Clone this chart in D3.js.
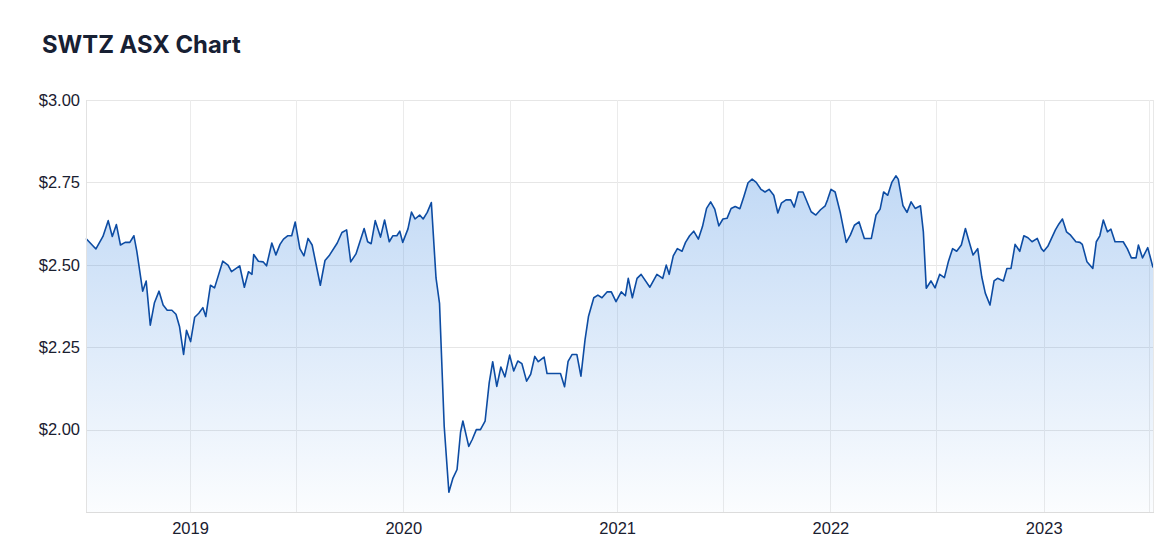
<!DOCTYPE html>
<html>
<head>
<meta charset="utf-8">
<script src="https://cdn.jsdelivr.net/npm/d3@7"></script>
<style>
  html, body { margin: 0; padding: 0; background: #ffffff; }
  svg { display: block; }
</style>
</head>
<body>
<svg id="chart" width="1174" height="560"></svg>
<script>
const title = "SWTZ ASX Chart";
const yTicks = [2.00, 2.25, 2.50, 2.75, 3.00];
const xLabelYears = ["2019", "2020", "2021", "2022", "2023"];
const domainDates = ["2018-07-07", "2023-07-07"];

const dates = [
"2018-07-07","2018-07-24","2018-08-05","2018-08-14","2018-08-21","2018-08-28","2018-09-04","2018-09-12","2018-09-20","2018-09-27",
"2018-10-02","2018-10-12","2018-10-18","2018-10-25","2018-11-01","2018-11-09","2018-11-16","2018-11-23","2018-12-01","2018-12-08",
"2018-12-14","2018-12-21","2018-12-26","2019-01-02","2019-01-09","2019-01-16","2019-01-23","2019-01-28","2019-02-05","2019-02-12",
"2019-02-26","2019-03-07","2019-03-13","2019-03-27","2019-04-04","2019-04-11","2019-04-17","2019-04-20","2019-04-28","2019-05-06",
"2019-05-12","2019-05-21","2019-05-28","2019-06-04","2019-06-10","2019-06-17","2019-06-24","2019-06-30","2019-07-08","2019-07-15",
"2019-07-22","2019-07-29","2019-08-12","2019-08-20","2019-08-28","2019-09-10","2019-09-18","2019-09-26","2019-10-03","2019-10-12",
"2019-10-26","2019-11-01","2019-11-07","2019-11-14","2019-11-23","2019-11-30","2019-12-08","2019-12-14","2019-12-21","2019-12-26",
"2019-12-31","2020-01-09","2020-01-15","2020-01-21","2020-01-29","2020-02-04","2020-02-11","2020-02-18","2020-02-26","2020-03-03",
"2020-03-11","2020-03-19","2020-03-26","2020-04-02","2020-04-08","2020-04-12","2020-04-22","2020-04-28","2020-05-05","2020-05-12",
"2020-05-20","2020-05-27","2020-06-02","2020-06-09","2020-06-16","2020-06-23","2020-07-01","2020-07-08","2020-07-15","2020-07-22",
"2020-07-30","2020-08-06","2020-08-13","2020-08-19","2020-08-29","2020-09-03","2020-09-26","2020-10-03","2020-10-09","2020-10-16",
"2020-10-24","2020-10-31","2020-11-07","2020-11-13","2020-11-22","2020-11-29","2020-12-06","2020-12-15","2020-12-22","2020-12-30",
"2021-01-08","2021-01-15","2021-01-20","2021-01-27","2021-02-04","2021-02-11","2021-02-26","2021-03-10","2021-03-20","2021-03-26",
"2021-03-31","2021-04-07","2021-04-14","2021-04-22","2021-04-28","2021-05-05","2021-05-12","2021-05-20","2021-05-27","2021-06-03",
"2021-06-10","2021-06-17","2021-06-24","2021-07-01","2021-07-08","2021-07-15","2021-07-22","2021-07-30","2021-08-06","2021-08-13",
"2021-08-20","2021-08-27","2021-09-04","2021-09-11","2021-09-18","2021-09-26","2021-10-03","2021-10-09","2021-10-17","2021-10-25",
"2021-10-31","2021-11-07","2021-11-15","2021-11-29","2021-12-07","2021-12-15","2021-12-23","2021-12-27","2022-01-02","2022-01-09",
"2022-01-18","2022-01-28","2022-02-04","2022-02-11","2022-02-19","2022-02-28","2022-03-12","2022-03-20","2022-03-27","2022-04-02",
"2022-04-09","2022-04-16","2022-04-23","2022-04-27","2022-05-05","2022-05-12","2022-05-19","2022-05-26","2022-06-04","2022-06-09",
"2022-06-14","2022-06-22","2022-06-29","2022-07-07","2022-07-15","2022-07-22","2022-07-29","2022-08-05","2022-08-13","2022-08-20",
"2022-08-26","2022-09-02","2022-09-10","2022-09-17","2022-09-23","2022-10-01","2022-10-08","2022-10-14","2022-10-24","2022-10-30",
"2022-11-06","2022-11-13","2022-11-21","2022-11-28","2022-12-05","2022-12-12","2022-12-21","2022-12-28","2023-01-01","2023-01-08",
"2023-01-21","2023-01-27","2023-02-02","2023-02-09","2023-02-16","2023-02-25","2023-03-04","2023-03-08","2023-03-16","2023-03-26",
"2023-04-01","2023-04-07","2023-04-13","2023-04-20","2023-04-26","2023-05-03","2023-05-17","2023-05-24","2023-05-31","2023-06-08",
"2023-06-12","2023-06-19","2023-06-28","2023-07-07"
];

const prices = [
2.580,2.548,2.586,2.634,2.586,2.622,2.560,2.568,2.568,2.588,
2.541,2.420,2.451,2.317,2.384,2.420,2.378,2.362,2.362,2.350,
2.313,2.228,2.301,2.267,2.341,2.353,2.370,2.343,2.438,2.430,
2.511,2.499,2.479,2.497,2.432,2.479,2.471,2.531,2.511,2.509,
2.497,2.566,2.530,2.562,2.578,2.588,2.588,2.630,2.549,2.527,
2.580,2.560,2.438,2.513,2.530,2.566,2.598,2.606,2.509,2.533,
2.610,2.570,2.564,2.634,2.584,2.636,2.570,2.588,2.588,2.602,
2.568,2.609,2.660,2.639,2.651,2.639,2.659,2.689,2.460,2.383,
2.010,1.810,1.853,1.879,1.992,2.026,1.949,1.970,2.000,2.000,
2.026,2.142,2.206,2.131,2.190,2.160,2.226,2.178,2.208,2.200,
2.147,2.168,2.222,2.206,2.220,2.170,2.170,2.130,2.207,2.228,
2.228,2.162,2.272,2.344,2.400,2.408,2.400,2.418,2.418,2.388,
2.418,2.406,2.459,2.400,2.459,2.471,2.432,2.471,2.459,2.499,
2.471,2.527,2.549,2.541,2.568,2.588,2.602,2.578,2.616,2.671,
2.691,2.669,2.618,2.639,2.641,2.671,2.677,2.670,2.708,2.749,
2.760,2.750,2.729,2.721,2.729,2.711,2.657,2.687,2.697,2.697,
2.675,2.721,2.721,2.661,2.651,2.667,2.679,2.697,2.729,2.721,
2.657,2.568,2.590,2.620,2.630,2.580,2.580,2.651,2.669,2.721,
2.711,2.750,2.770,2.760,2.680,2.659,2.691,2.671,2.679,2.600,
2.429,2.451,2.430,2.471,2.461,2.511,2.549,2.541,2.560,2.610,
2.572,2.530,2.549,2.463,2.414,2.378,2.451,2.459,2.451,2.489,
2.489,2.562,2.541,2.588,2.582,2.570,2.580,2.549,2.541,2.556,
2.606,2.624,2.639,2.600,2.590,2.570,2.568,2.562,2.509,2.489,
2.570,2.588,2.636,2.600,2.608,2.570,2.570,2.549,2.521,2.521,
2.560,2.521,2.552,2.492
];

const parseDate = d3.timeParse("%Y-%m-%d");
const series = dates.map((d, i) => ({ date: parseDate(d), value: prices[i] }));

(function draw() {
  const svg = d3.select("#chart");
  const pLeft = 86, pRight = 1153, pTop = 100, pBottom = 512;

  const x = d3.scaleTime().domain(domainDates.map(parseDate)).range([pLeft, pRight]);
  const y = d3.scaleLinear().domain([1.75, 3.00]).range([pBottom, pTop]);

  // Title
  svg.append("text")
    .attr("x", 42).attr("y", 53)
    .attr("font-family", "Inter, 'Noto Sans', sans-serif")
    .attr("font-weight", 700)
    .attr("font-size", 23.8)
    .attr("fill", "#172033")
    .text(title);

  // Gradient
  const defs = svg.append("defs");
  const grad = defs.append("linearGradient")
    .attr("id", "areaGrad")
    .attr("gradientUnits", "userSpaceOnUse")
    .attr("x1", 0).attr("x2", 0)
    .attr("y1", y(3.00)).attr("y2", y(1.75));
  grad.append("stop").attr("offset", "0%").attr("stop-color", "#3a86e0").attr("stop-opacity", 0.38);
  grad.append("stop").attr("offset", "100%").attr("stop-color", "#3a86e0").attr("stop-opacity", 0.02);

  // Horizontal grid
  svg.append("g")
    .selectAll("line")
    .data(yTicks)
    .join("line")
    .attr("x1", pLeft).attr("x2", pRight)
    .attr("y1", d => Math.round(y(d)) + 0.5).attr("y2", d => Math.round(y(d)) + 0.5)
    .attr("stroke", "#e6e6e6").attr("stroke-width", 1);

  // Vertical grid: Jan 1 and Jul 1 each year
  const vTicks = d3.timeMonth.every(6).range(x.domain()[0], x.domain()[1]);
  svg.append("g")
    .selectAll("line")
    .data(vTicks)
    .join("line")
    .attr("x1", d => Math.round(x(d)) + 0.5).attr("x2", d => Math.round(x(d)) + 0.5)
    .attr("y1", pTop).attr("y2", pBottom)
    .attr("stroke", "#ebebeb").attr("stroke-width", 1);

  // Area
  const area = d3.area()
    .x(d => x(d.date))
    .y0(y(1.75))
    .y1(d => y(d.value));
  svg.append("path")
    .datum(series)
    .attr("d", area)
    .attr("fill", "url(#areaGrad)");

  // Line
  const line = d3.line()
    .x(d => x(d.date))
    .y(d => y(d.value));
  svg.append("path")
    .datum(series)
    .attr("d", line)
    .attr("fill", "none")
    .attr("stroke", "#0d4ca3")
    .attr("stroke-width", 1.6)
    .attr("stroke-linejoin", "round");

  // Frame: left, right, bottom
  svg.append("line").attr("x1", pLeft + 0.5).attr("x2", pLeft + 0.5).attr("y1", pTop).attr("y2", pBottom)
    .attr("stroke", "#e2e2e2");
  svg.append("line").attr("x1", pRight + 0.5).attr("x2", pRight + 0.5).attr("y1", pTop).attr("y2", pBottom)
    .attr("stroke", "#e8e8e8");
  svg.append("line").attr("x1", pLeft).attr("x2", pRight + 1).attr("y1", pBottom + 0.5).attr("y2", pBottom + 0.5)
    .attr("stroke", "#dcdcdc");

  // Y axis labels
  const yAxis = d3.axisLeft(y).tickValues(yTicks)
    .tickFormat(d => "$" + d3.format(".2f")(d)).tickSize(0).tickPadding(6);
  const gy = svg.append("g").attr("transform", `translate(${pLeft},0)`).call(yAxis);
  gy.select(".domain").remove();
  gy.selectAll("text")
    .attr("font-family", "'Liberation Sans', Arial, sans-serif")
    .attr("font-size", 16.5)
    .attr("fill", "#1a2030");

  // X axis labels (years)
  const yearDates = xLabelYears.map(s => parseDate(s + "-01-01"));
  const xAxis = d3.axisBottom(x).tickValues(yearDates)
    .tickFormat(d3.timeFormat("%Y")).tickSize(0).tickPadding(10);
  const gx = svg.append("g").attr("transform", `translate(0,${pBottom})`).call(xAxis);
  gx.select(".domain").remove();
  gx.selectAll("text")
    .attr("font-family", "'Liberation Sans', Arial, sans-serif")
    .attr("font-size", 16.5)
    .attr("fill", "#1a2030");
})();
</script>
</body>
</html>
